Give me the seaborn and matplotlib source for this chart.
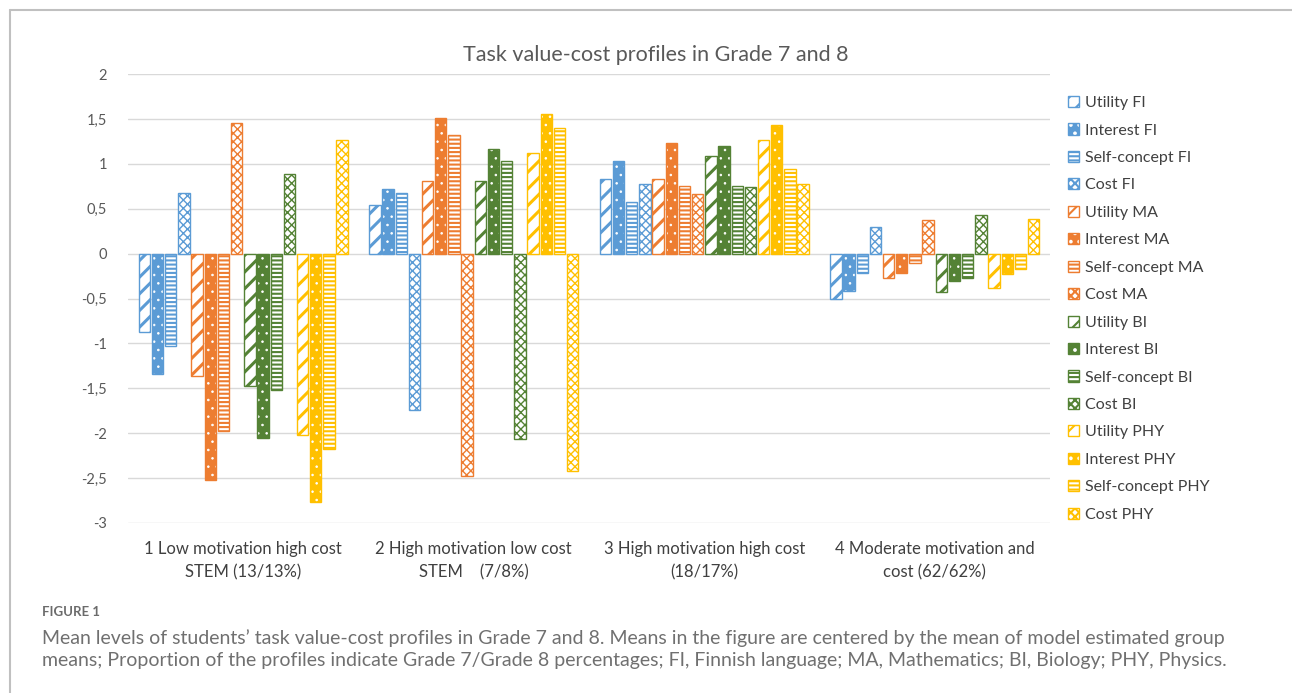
import matplotlib
matplotlib.use("Agg")
import matplotlib.pyplot as plt
import seaborn as sns
import pandas as pd
from matplotlib.patches import Patch, Rectangle
from matplotlib.lines import Line2D

# ---------------- data ----------------
profiles = ["1 Low motivation high cost\nSTEM (13/13%)",
            "2 High motivation low cost\nSTEM    (7/8%)",
            "3 High motivation high cost\n(18/17%)",
            "4 Moderate motivation and\ncost (62/62%)"]

utility_fi = [-0.87, 0.545, 0.83, -0.50]
interest_fi = [-1.34, 0.72, 1.035, -0.42]
selfconcept_fi = [-1.03, 0.675, 0.58, -0.22]
cost_fi = [0.67, -1.745, 0.78, 0.30]
utility_ma = [-1.36, 0.805, 0.83, -0.27]
interest_ma = [-2.52, 1.51, 1.23, -0.22]
selfconcept_ma = [-1.97, 1.325, 0.75, -0.11]
cost_ma = [1.45, -2.48, 0.66, 0.37]
utility_bi = [-1.47, 0.81, 1.09, -0.43]
interest_bi = [-2.05, 1.16, 1.20, -0.31]
selfconcept_bi = [-1.52, 1.03, 0.75, -0.27]
cost_bi = [0.89, -2.07, 0.745, 0.425]
utility_phy = [-2.02, 1.125, 1.27, -0.38]
interest_phy = [-2.77, 1.56, 1.435, -0.23]
selfconcept_phy = [-2.18, 1.395, 0.94, -0.17]
cost_phy = [1.26, -2.42, 0.77, 0.38]

series_names = ["Utility FI", "Interest FI", "Self-concept FI", "Cost FI",
                "Utility MA", "Interest MA", "Self-concept MA", "Cost MA",
                "Utility BI", "Interest BI", "Self-concept BI", "Cost BI",
                "Utility PHY", "Interest PHY", "Self-concept PHY", "Cost PHY"]
series_values = [utility_fi, interest_fi, selfconcept_fi, cost_fi,
                 utility_ma, interest_ma, selfconcept_ma, cost_ma,
                 utility_bi, interest_bi, selfconcept_bi, cost_bi,
                 utility_phy, interest_phy, selfconcept_phy, cost_phy]

y_ticks = [2, 1.5, 1, 0.5, 0, -0.5, -1, -1.5, -2, -2.5, -3]
y_tick_labels = ["2", "1,5", "1", "0,5", "0", "-0,5", "-1", "-1,5", "-2", "-2,5", "-3"]

title = "Task value-cost profiles in Grade 7 and 8"
caption_head = "FIGURE 1"
caption_body = ("Mean levels of students\u2019 task value-cost profiles in Grade 7 and 8. Means in the figure are centered by the mean of model estimated group\n"
                "means; Proportion of the profiles indicate Grade 7/Grade 8 percentages; FI, Finnish language; MA, Mathematics; BI, Biology; PHY, Physics.")

# ---------------- styles ----------------
subject_colors = {"FI": "#5B9BD5", "MA": "#ED7D31", "BI": "#548235", "PHY": "#FFC000"}
hatches = {"Utility": "//", "Interest": "..", "Self-concept": "----", "Cost": "xxxx"}
hatch_widths = {"Utility": 2.2, "Interest": 0.6, "Self-concept": 1.5, "Cost": 1.0}

sns.set_theme(style="white")
plt.rcParams["font.family"] = ["Lato", "DejaVu Sans"]
plt.rcParams["hatch.linewidth"] = 1.5

rows = []
for name, vals in zip(series_names, series_values):
    for p, v in zip(profiles, vals):
        rows.append({"profile": p, "series": name, "value": v})
df = pd.DataFrame(rows)

def color_of(name):
    return subject_colors[name.split()[-1]]

def kind_of(name):
    return name.split()[0]

def set_hw(patch, kind):
    if hasattr(patch, "set_hatch_linewidth"):
        patch.set_hatch_linewidth(hatch_widths[kind])

palette = {n: color_of(n) for n in series_names}

W, H = 1292, 693
fig = plt.figure(figsize=(W / 100, H / 100), dpi=100)
ax = fig.add_axes([128 / W, 1 - 523 / H, (1050 - 128) / W, (523 - 74) / H])

sns.barplot(data=df, x="profile", y="value", hue="series", hue_order=series_names,
            order=profiles, palette=palette, width=0.915, gap=0.14,
            legend=False, ax=ax, saturation=1)

for name, cont in zip(series_names, ax.containers):
    col = color_of(name)
    kind = kind_of(name)
    for bar in cont:
        if kind == "Interest":
            bar.set_facecolor(col)
            bar.set_edgecolor("white")
            bar.set_hatch(hatches[kind])
            bar.set_linewidth(0)
            set_hw(bar, kind)
            ax.add_patch(Rectangle(bar.get_xy(), bar.get_width(), bar.get_height(),
                                   fill=False, edgecolor=col, linewidth=1.0, zorder=bar.get_zorder() + 0.1))
        else:
            bar.set_facecolor("white")
            bar.set_edgecolor(col)
            bar.set_hatch(hatches[kind])
            bar.set_linewidth(1.0)
            set_hw(bar, kind)

ax.set_ylim(-3, 2)
ax.set_yticks(y_ticks)
ax.set_yticklabels(y_tick_labels)
ax.grid(axis="y", color="#D9D9D9", linewidth=1.0)
ax.set_axisbelow(True)
for s in ax.spines.values():
    s.set_visible(False)
ax.tick_params(axis="y", length=0, pad=15, labelsize=10.5, labelcolor="#595959")
ax.tick_params(axis="x", length=0, pad=13, labelsize=12, labelcolor="#404040")
for lbl in ax.get_xticklabels():
    lbl.set_linespacing(1.55)
ax.set_xlabel("")
ax.set_ylabel("")

fig.text(656 / W, 1 - 55 / H, title, ha="center", va="center", fontsize=15.5, color="#595959")

# legend
handles = []
for name in series_names:
    col = color_of(name)
    kind = kind_of(name)
    if kind == "Interest":
        p = Patch(facecolor=col, edgecolor="white", hatch=hatches[kind], linewidth=0)
        set_hw(p, kind)
        handles.append((p, Patch(facecolor="none", edgecolor=col, linewidth=1.0)))
    else:
        p = Patch(facecolor="white", edgecolor=col, hatch=hatches[kind], linewidth=1.0)
        set_hw(p, kind)
        handles.append(p)
fig.legend(handles, series_names, loc="upper left", bbox_to_anchor=(1068 / W, 1 - 96 / H),
           frameon=False, fontsize=11.5, labelcolor="#404040", handlelength=0.7,
           handleheight=0.7, handletextpad=0.35, labelspacing=0.83, borderpad=0, borderaxespad=0)

# frame
fig.add_artist(Line2D([10 / W, 10 / W], [0, 1 - 10 / H], color="#C0C0C0", linewidth=1.5, transform=fig.transFigure))
fig.add_artist(Line2D([10 / W, 1], [1 - 10 / H, 1 - 10 / H], color="#C0C0C0", linewidth=1.5, transform=fig.transFigure))

# caption
fig.text(42 / W, 1 - 612 / H, caption_head, ha="left", va="center", fontsize=9.5,
         color="#6b6b6b", fontweight="bold")
fig.text(42 / W, 1 - 649 / H, caption_body, ha="left", va="center", fontsize=14,
         color="#707070", linespacing=1.3)

fig.savefig("out.png", dpi=100)
